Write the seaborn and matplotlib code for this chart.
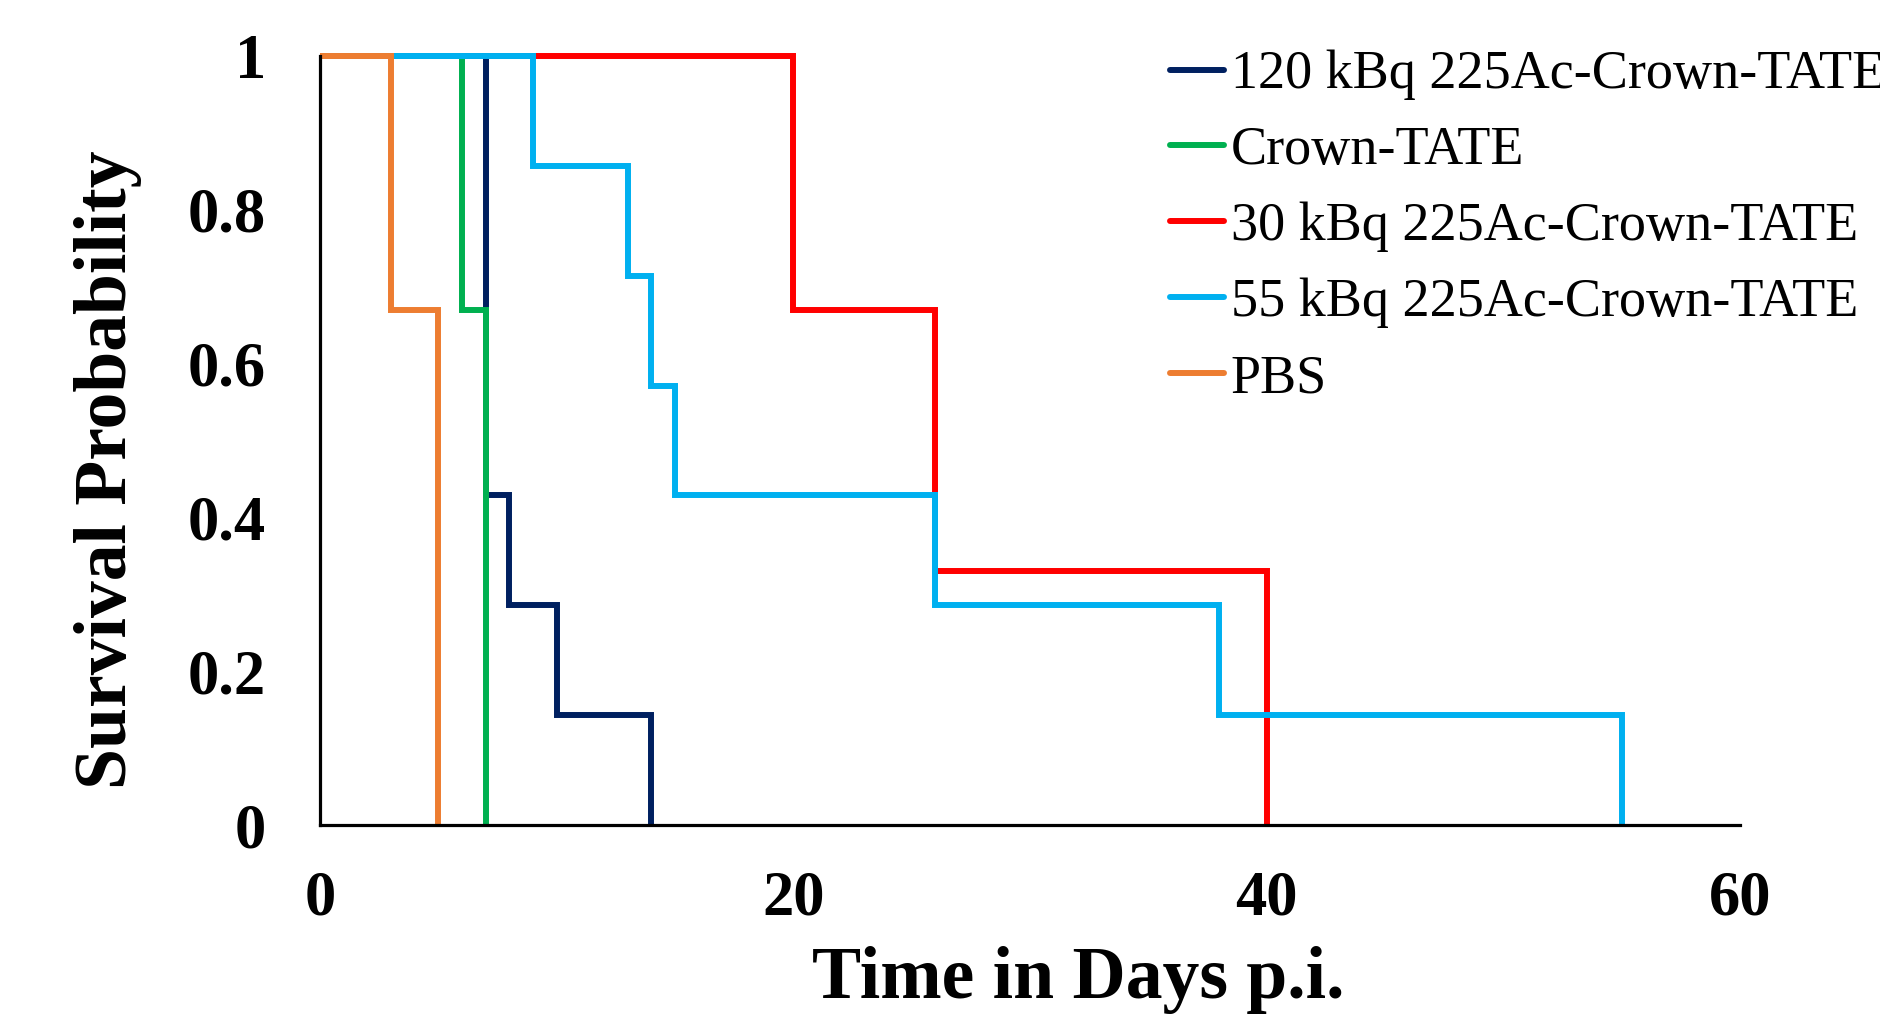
import numpy as np
import pandas as pd
import matplotlib
matplotlib.use("Agg")
import matplotlib.pyplot as plt
import seaborn as sns

# ---- data (Kaplan-Meier step points) ----
labels = ["120 kBq 225Ac-Crown-TATE", "Crown-TATE", "30 kBq 225Ac-Crown-TATE",
          "55 kBq 225Ac-Crown-TATE", "PBS"]
colors = ["#002060", "#00B050", "#FF0000", "#00B0F0", "#ED7D31"]

t_120 = [0, 7, 8, 10, 14]
s_120 = [1.0, 3/7, 2/7, 1/7, 0.0]
t_crown = [0, 6, 7]
s_crown = [1.0, 0.67, 0.0]
t_30 = [0, 20, 26, 40]
s_30 = [1.0, 0.67, 0.33, 0.0]
t_55 = [0, 9, 13, 14, 15, 26, 38, 55]
s_55 = [1.0, 6/7, 5/7, 4/7, 3/7, 2/7, 1/7, 0.0]
t_pbs = [0, 3, 5]
s_pbs = [1.0, 0.67, 0.0]

x_ticks = [0, 20, 40, 60]
y_ticks = [0, 0.2, 0.4, 0.6, 0.8, 1]
y_tick_labels = ["0", "0.2", "0.4", "0.6", "0.8", "1"]

series = {
    labels[0]: (t_120, s_120),
    labels[1]: (t_crown, s_crown),
    labels[2]: (t_30, s_30),
    labels[3]: (t_55, s_55),
    labels[4]: (t_pbs, s_pbs),
}
palette = dict(zip(labels, colors))
draw_order = [labels[2], labels[0], labels[1], labels[3], labels[4]]

sns.set_theme(style="white")
plt.rcParams["font.family"] = ["Liberation Serif", "DejaVu Serif"]
plt.rcParams["text.color"] = "black"
plt.rcParams["xtick.color"] = "black"
plt.rcParams["ytick.color"] = "black"

LW = 4.3

fig = plt.figure(figsize=(18.8, 10.17), dpi=100)
ax = fig.add_axes([320/1880, 1-825/1017, (1740-320)/1880, (825-56)/1017])

handles = {}
for lab in draw_order:
    t, s = series[lab]
    df = pd.DataFrame({"t": t, "s": s})
    sns.lineplot(data=df, x="t", y="s", estimator=None, sort=False,
                 drawstyle="steps-post", color=palette[lab], linewidth=LW,
                 ax=ax, label=lab, solid_capstyle="butt", solid_joinstyle="miter")
    handles[lab] = ax.lines[-1]
for ln in ax.lines:
    ln.set_clip_on(False)
    ln.set_linewidth(LW)

ax.set_xlim(0, 60)
ax.set_ylim(0, 1)
ax.set_xticks(x_ticks)
ax.set_xticklabels([str(v) for v in x_ticks])
ax.set_yticks(y_ticks)
ax.set_yticklabels(y_tick_labels)
for side in ["top", "right"]:
    ax.spines[side].set_visible(False)
for side in ["left", "bottom"]:
    ax.spines[side].set_color("black")
    ax.spines[side].set_linewidth(2.3)
ax.tick_params(axis="both", which="major", direction="out", length=13, width=2.3,
               color="black", labelcolor="black", labelsize=45)
ax.tick_params(axis="x", pad=20)
ax.tick_params(axis="y", pad=26)
for lbl in ax.get_xticklabels() + ax.get_yticklabels():
    lbl.set_fontweight("bold")
    lbl.set_color("black")
ax.set_xlabel("")
ax.set_ylabel("")
ax.grid(False)

fig.text(1078/1880, 1-998/1017, "Time in Days p.i.", ha="center", va="baseline",
         fontsize=53, fontweight="bold", color="black")
fig.text(108/1880, 1-470/1017, "Survival Probability", ha="center", va="center",
         rotation=90, fontsize=53, fontweight="bold", color="black")

leg_handles = [handles[l] for l in labels]
leg = ax.legend(leg_handles, labels, loc="upper left",
                bbox_to_anchor=(1170/1880, 1-50/1017), bbox_transform=fig.transFigure,
                frameon=False, fontsize=39, handlelength=1.0, handletextpad=0.12,
                labelspacing=0.47, borderpad=0, borderaxespad=0)
for h in leg.get_lines():
    h.set_linewidth(LW)
    h.set_solid_capstyle("round")
for txt in leg.get_texts():
    txt.set_color("black")

fig.savefig("out.png", dpi=100, facecolor="white")
